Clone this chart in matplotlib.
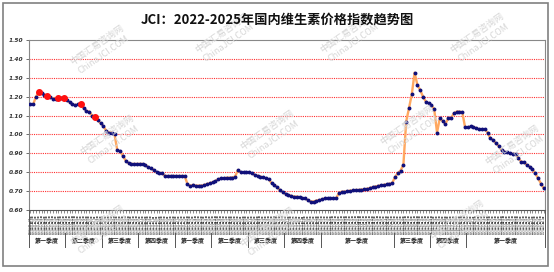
import matplotlib
matplotlib.use('Agg')
import matplotlib.pyplot as plt
import matplotlib.transforms as mtransforms
from matplotlib.patches import Rectangle
import pandas as pd

plt.rcParams['font.family'] = ['Noto Sans CJK SC', 'DejaVu Sans']

values = [
    1.16, 1.16, 1.20, 1.225, 1.22, 1.21, 1.205, 1.20, 1.19, 1.19,
    1.195, 1.195, 1.195, 1.18, 1.17, 1.16, 1.155, 1.16, 1.16, 1.14,
    1.125, 1.12, 1.10, 1.09, 1.075, 1.06, 1.045, 1.02, 1.01, 1.01,
    1.00, 0.915, 0.912, 0.886, 0.861, 0.848, 0.844, 0.844, 0.844, 0.844,
    0.844, 0.84, 0.826, 0.82, 0.812, 0.80, 0.796, 0.796, 0.78, 0.78,
    0.78, 0.78, 0.78, 0.78, 0.78, 0.78, 0.738, 0.728, 0.733, 0.729,
    0.729, 0.729, 0.733, 0.738, 0.742, 0.747, 0.754, 0.763, 0.768, 0.768,
    0.771, 0.771, 0.772, 0.777, 0.812, 0.80, 0.80, 0.80, 0.80, 0.795,
    0.786, 0.782, 0.777, 0.773, 0.768, 0.763, 0.742, 0.733, 0.72, 0.706,
    0.694, 0.685, 0.68, 0.675, 0.671, 0.671, 0.668, 0.662, 0.662, 0.651,
    0.645, 0.645, 0.65, 0.653, 0.656, 0.662, 0.662, 0.662, 0.662, 0.662,
    0.689, 0.697, 0.697, 0.70, 0.702, 0.704, 0.706, 0.706, 0.708, 0.71,
    0.712, 0.716, 0.721, 0.724, 0.728, 0.73, 0.733, 0.736, 0.739, 0.742,
    0.774, 0.795, 0.809, 0.839, 1.068, 1.139, 1.213, 1.327, 1.262, 1.235,
    1.20, 1.174, 1.165, 1.156, 1.133, 1.01, 1.086, 1.071, 1.056, 1.086,
    1.086, 1.112, 1.121, 1.121, 1.118, 1.038, 1.038, 1.043, 1.04, 1.033,
    1.028, 1.028, 1.028, 1.01, 0.98, 0.971, 0.953, 0.939, 0.918, 0.909,
    0.905, 0.90, 0.897, 0.897, 0.874, 0.856, 0.853, 0.839, 0.83, 0.816,
    0.795, 0.768, 0.74, 0.715,
]
dates = pd.date_range('2022-01-07', periods=len(values), freq='7D')
date_labels = [d.strftime('%Y年%m月%d日') for d in dates]
highlight_idx = [3, 6, 10, 12, 18, 23]
quarter_labels = ['第一季度', '第二季度', '第三季度', '第四季度',
                  '第一季度', '第二季度', '第三季度', '第四季度',
                  '第一季度', '第三季度', '第四季度', '第一季度']
quarter_bounds = [0, 13, 26, 39, 52, 65, 78, 91, 104, 130, 143, 156, 184]
yticks = [0.60, 0.70, 0.80, 0.90, 1.00, 1.10, 1.20, 1.30, 1.40, 1.50]
title = 'JCI：2022-2025年国内维生素价格指数趋势图'

W, H = 554, 272
fig = plt.figure(figsize=(W / 100, H / 100), dpi=100)
fig.patch.set_facecolor('white')

# watermarks
wm_pos = [(100, 50), (225, 38), (350, 38), (480, 38),
          (110, 140), (270, 135), (410, 130), (515, 150),
          (100, 230), (270, 232), (460, 225)]
for (px, py) in wm_pos:
    fig.text(px / W, 1 - py / H, '中国汇易咨询网\nChinaJCI.COM', rotation=35,
             color='#d6d6d6', fontsize=6.5, ha='center', va='center',
             linespacing=1.5, zorder=0)

ax = fig.add_axes([29 / W, 1 - 210 / H, (545 - 29) / W, (210 - 40) / H])
ax.set_facecolor('none')
x = list(range(len(values)))
ax.set_xlim(-0.5, len(values) - 0.5)
ax.set_ylim(0.60, 1.50)

for yv in yticks[1:-1]:
    ax.axhline(yv, color='#ff3030', lw=0.8, ls=(0, (1, 1)), zorder=1)

ax.plot(x, values, color='#ffa860', lw=1.7, zorder=2)
ax.plot(x, values, ls='none', marker='o', ms=1.8, color='#10107a', zorder=3)
ax.plot([x[i] for i in highlight_idx], [values[i] for i in highlight_idx],
        ls='none', marker='o', ms=4.0, color='#ff1010', zorder=4)

ax.set_yticks(yticks)
ax.set_yticklabels([f'{v:.2f}' for v in yticks], fontsize=4.2, style='italic',
                   fontweight='bold', color='#333333', family='DejaVu Sans')
ax.tick_params(axis='y', length=2, width=0.6, color='#555555', pad=2)
ax.set_xticks(x)
ax.set_xticklabels(date_labels, rotation=90, fontsize=1.9, color='#333333')
ax.tick_params(axis='x', length=2.2, width=0.4, color='#333333', pad=0.8)
for s in ['left', 'top', 'right']:
    ax.spines[s].set_color('#888888')
    ax.spines[s].set_linewidth(0.8)
ax.spines['bottom'].set_color('#555555')
ax.spines['bottom'].set_linewidth(0.8)

trans = mtransforms.blended_transform_factory(ax.transData, ax.transAxes)
for b in quarter_bounds:
    ytop = 0.0 if b in (0, len(values)) else -0.135
    ax.plot([b - 0.5, b - 0.5], [ytop, -0.218], transform=trans, color='#555555',
            lw=0.7, clip_on=False)
for lab, a, b in zip(quarter_labels, quarter_bounds[:-1], quarter_bounds[1:]):
    ax.text((a + b) / 2 - 0.5, -0.178, lab, transform=trans, ha='center', va='center',
            fontsize=4.3, fontweight='bold', color='#222222')

fig.text(277 / W, 1 - 20 / H, title, ha='center', va='center', fontsize=9.5,
         fontweight='bold', color='#111111')

fig.patches.append(Rectangle((3 / W, 1 - 266 / H), 545 / W, 263 / H,
                             transform=fig.transFigure, fill=False,
                             edgecolor='#808080', lw=1.2))

fig.savefig('out.png', dpi=100)
